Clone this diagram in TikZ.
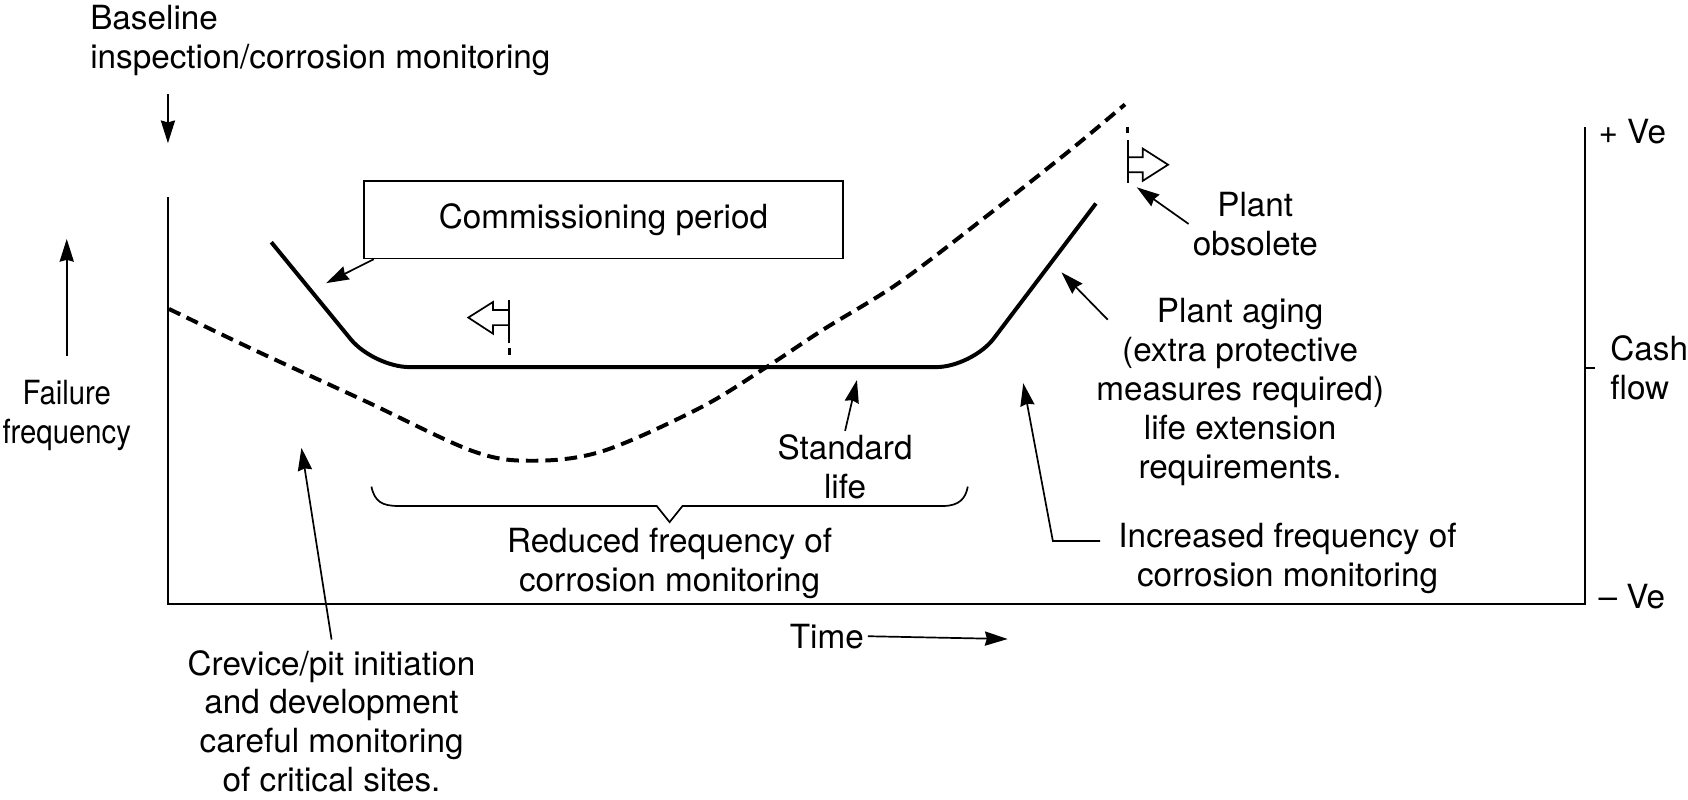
\documentclass[tikz,border=0pt]{standalone}
\usepackage{fontspec}
\setmainfont{TeX Gyre Heros}
\newfontfamily\narrowfont[FakeStretch=0.88]{TeX Gyre Heros}
\usetikzlibrary{arrows.meta}

\begin{document}
\begin{tikzpicture}[x=0.02cm, y=-0.02cm,
		font=\fontsize{17.6}{20.6}\selectfont,
		note/.style={align=center, inner sep=2pt},
		pointer/.style={-{Stealth[length=12pt,width=7.5pt,inset=1pt]}, line width=0.9pt},
		thinline/.style={line width=0.9pt},
		thickline/.style={line width=2.1pt},
		dashline/.style={line width=2.1pt, dash pattern=on 6.6pt off 3.7pt}]
	\useasboundingbox (0,0) rectangle (1568,743);

	\coordinate (top) at (156,183);
	\coordinate (origin) at (156,561);
	\coordinate (right) at (1472,561);
	\coordinate (righttop) at (1472,118);
	\coordinate (mid) at (1472,342);

	\draw[thinline] (top) -- (origin) -- (right) -- (righttop);
	\draw[thinline] (mid) -- ++(10,0);

	\draw[dashline] plot[smooth, tension=0.55] coordinates {(157,287) (236,325) (338,372) (439,419) (495,428) (560,419) (650,379) (712,341) (765,306) (836,262) (920,198) (991,142) (1045,97)};
	\draw[thickline, rounded corners=19pt] (252,225) -- (347,341) -- (903,341) -- (1018,189);

	\draw[thinline] (473,279) -- (473,319);
	\draw[line width=1.8pt] (473,323) -- (473,330);
	\draw[thinline] (473,288) -- (458,288) -- (458,280.5) -- (435,295) -- (458,310) -- (458,302) -- (473,302);
	\draw[thinline] (1047.5,130) -- (1047.5,170);
	\draw[line width=1.8pt] (1047.5,118) -- (1047.5,124);
	\draw[thinline] (1047.5,146) -- (1061.5,146) -- (1061.5,138) -- (1085,153) -- (1061.5,168) -- (1061.5,160) -- (1047.5,160);

	\draw[thinline] (345,452) .. controls (348,466) and (355,470) .. (370,470) -- (610,470) -- (622,485) -- (634,470) -- (876,470) .. controls (891,470) and (897,463) .. (899,452);

	\node[note, align=left, anchor=west] (baseline) at (80,38) {Baseline\\inspection/corrosion monitoring};
	\node[note, draw, thinline, minimum width=8.9cm, minimum height=1.44cm] (comm) at (560.5,204) {Commissioning period};
	\node[note, font=\fontsize{17.6}{20.6}\narrowfont] (failure) at (62,386) {Failure\\frequency};
	\node[note] (crevice) at (308,670) {Crevice/pit initiation\\and development\\careful monitoring\\of critical sites.};
	\node[note] (standard) at (785,434) {Standard\\life};
	\node[note] (reduced) at (622,523) {Reduced frequency of\\corrosion monitoring};
	\node[note] (time) at (768,591) {Time};
	\node[note] (obsolete) at (1166,208) {Plant\\obsolete};
	\node[note] (aging) at (1152,364) {Plant aging\\(extra protective\\measures required)\\life extension\\requirements.};
	\node[note] (increased) at (1196,519) {Increased frequency of\\corrosion monitoring};
	\node[note, anchor=west] (plus) at (1481,122) {+ Ve};
	\node[note, anchor=west] (minus) at (1481,554) {– Ve};
	\node[note, align=left, anchor=west] (cash) at (1492,342) {Cash\\flow};

	\coordinate (commtip) at (303,263);
	\coordinate (failtip) at (62,222);
	\coordinate (crevtip) at (280,416);
	\coordinate (stdtip) at (796,353);
	\coordinate (timetip) at (936,593.6);
	\coordinate (obstip) at (1056,174);
	\coordinate (agefrom) at (1029,297);
	\coordinate (agetip) at (986,253);
	\coordinate (incrfrom) at (1022,502.5);
	\coordinate (elbow) at (978,502.5);
	\coordinate (incrtip) at (950.5,356);

	\draw[pointer] ([yshift=-0.26cm]baseline.south -| top) -- ([yshift=1cm]top);
	\draw[pointer] ([xshift=0.2cm]comm.south west) -- (commtip);
	\draw[pointer] ([yshift=0.37cm]failure.north) -- (failtip);
	\draw[pointer] ([yshift=0.12cm]crevice.north) -- (crevtip);
	\draw[pointer] (standard.north) -- (stdtip);
	\draw[pointer] (time.east) -- (timetip);
	\draw[pointer] (obsolete.west) -- (obstip);
	\draw[pointer] (agefrom) -- (agetip);
	\draw[pointer] (incrfrom) -- (elbow) -- (incrtip);
\end{tikzpicture}
\end{document}
